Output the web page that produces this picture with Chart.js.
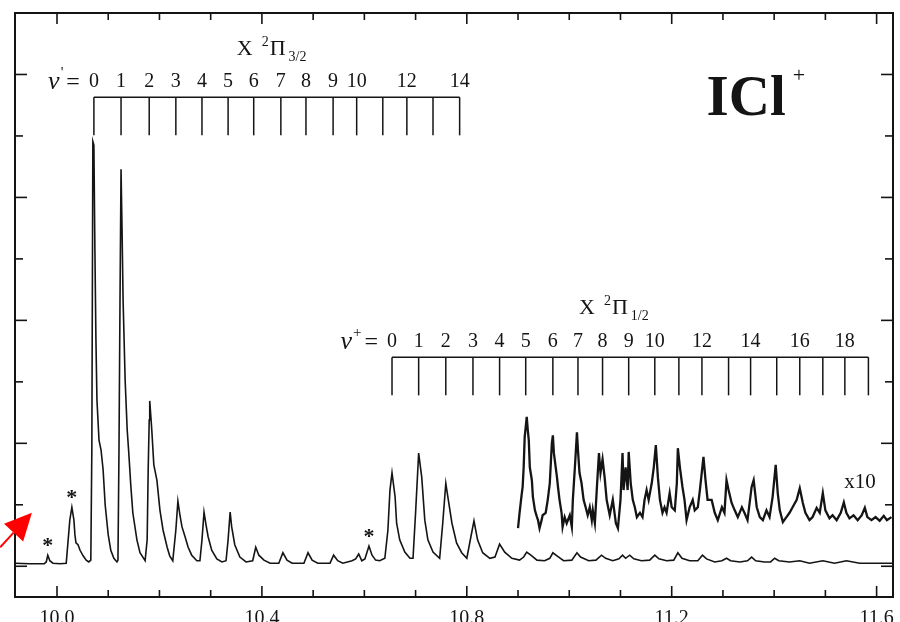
<!DOCTYPE html>
<html>
<head>
<meta charset="utf-8">
<script src="https://cdn.jsdelivr.net/npm/chart.js@4.4.1/dist/chart.umd.min.js"></script>
<style>
  html, body { margin: 0; padding: 0; background: #fff; }
  #wrap { width: 900px; height: 622px; position: relative; }
</style>
</head>
<body>
<div id="wrap"><canvas id="chart-div"></canvas></div>
<script>
// ICl+ threshold photoelectron spectrum
// energy in eV, signal in arbitrary units (baseline ~0)
const mainEnergy = [
  9.918, 9.947, 9.975, 9.979, 9.982, 9.986, 9.992, 10.006, 10.018, 10.021,
  10.025, 10.029, 10.033, 10.035, 10.037, 10.041, 10.045, 10.051, 10.057, 10.062,
  10.066, 10.068, 10.070, 10.072, 10.074, 10.076, 10.078, 10.082, 10.086, 10.090,
  10.094, 10.100, 10.105, 10.111, 10.117, 10.119, 10.121, 10.123, 10.125, 10.127,
  10.129, 10.133, 10.137, 10.140, 10.144, 10.148, 10.156, 10.162, 10.172, 10.176,
  10.178, 10.180, 10.181, 10.183, 10.185, 10.189, 10.195, 10.201, 10.207, 10.215,
  10.220, 10.226, 10.232, 10.236, 10.240, 10.244, 10.250, 10.256, 10.263, 10.273,
  10.279, 10.283, 10.287, 10.291, 10.295, 10.302, 10.312, 10.322, 10.330, 10.334,
  10.338, 10.341, 10.347, 10.357, 10.369, 10.382, 10.388, 10.394, 10.404, 10.416,
  10.433, 10.441, 10.449, 10.459, 10.482, 10.490, 10.498, 10.509, 10.533, 10.540,
  10.548, 10.558, 10.576, 10.583, 10.589, 10.595, 10.601, 10.609, 10.615, 10.622,
  10.630, 10.640, 10.646, 10.650, 10.654, 10.660, 10.663, 10.669, 10.679, 10.689,
  10.695, 10.700, 10.706, 10.712, 10.718, 10.724, 10.734, 10.747, 10.753, 10.759,
  10.763, 10.771, 10.780, 10.790, 10.800, 10.808, 10.814, 10.821, 10.831, 10.845,
  10.855, 10.864, 10.874, 10.888, 10.903, 10.911, 10.917, 10.925, 10.937, 10.952,
  10.962, 10.968, 10.976, 10.989, 11.005, 11.015, 11.022, 11.038, 11.052, 11.063,
  11.071, 11.085, 11.097, 11.104, 11.110, 11.118, 11.126, 11.141, 11.157, 11.167,
  11.175, 11.190, 11.204, 11.212, 11.220, 11.235, 11.251, 11.260, 11.268, 11.284,
  11.298, 11.307, 11.315, 11.333, 11.348, 11.356, 11.364, 11.381, 11.393, 11.401,
  11.409, 11.430, 11.450, 11.469, 11.495, 11.518, 11.541, 11.567, 11.596, 11.631
];
const mainSignal = [
  0.05, 0.04, 0.04, 0.07, 0.18, 0.09, 0.05, 0.04, 0.05, 0.35,
  0.75, 0.96, 0.75, 0.51, 0.38, 0.35, 0.26, 0.17, 0.10, 0.07,
  0.10, 1.89, 6.91, 6.85, 5.14, 3.68, 2.70, 2.05, 1.89, 1.57,
  1.00, 0.51, 0.26, 0.13, 0.07, 0.10, 1.89, 4.33, 6.46, 5.47,
  4.33, 3.03, 2.22, 1.86, 1.32, 0.87, 0.43, 0.22, 0.09, 0.43,
  1.57, 2.38, 2.69, 2.46, 2.22, 1.65, 1.40, 0.91, 0.59, 0.31,
  0.17, 0.09, 0.59, 1.06, 0.83, 0.64, 0.48, 0.31, 0.18, 0.09,
  0.09, 0.43, 0.88, 0.67, 0.48, 0.26, 0.12, 0.07, 0.09, 0.43,
  0.88, 0.64, 0.35, 0.15, 0.07, 0.09, 0.31, 0.18, 0.10, 0.05,
  0.05, 0.22, 0.10, 0.05, 0.05, 0.22, 0.10, 0.05, 0.05, 0.18,
  0.09, 0.05, 0.09, 0.12, 0.20, 0.09, 0.12, 0.33, 0.18, 0.10,
  0.09, 0.13, 0.59, 1.24, 1.52, 1.13, 0.70, 0.43, 0.23, 0.13,
  0.13, 0.87, 1.84, 1.45, 0.75, 0.43, 0.23, 0.13, 0.70, 1.35,
  1.13, 0.70, 0.38, 0.22, 0.13, 0.48, 0.74, 0.43, 0.22, 0.13,
  0.15, 0.36, 0.23, 0.13, 0.10, 0.15, 0.23, 0.18, 0.10, 0.09,
  0.13, 0.22, 0.17, 0.09, 0.10, 0.22, 0.15, 0.09, 0.10, 0.18,
  0.13, 0.09, 0.12, 0.18, 0.13, 0.18, 0.12, 0.09, 0.10, 0.18,
  0.12, 0.09, 0.10, 0.22, 0.13, 0.09, 0.09, 0.18, 0.12, 0.07,
  0.09, 0.13, 0.09, 0.07, 0.09, 0.15, 0.09, 0.07, 0.07, 0.13,
  0.09, 0.07, 0.09, 0.05, 0.09, 0.05, 0.09, 0.05, 0.05, 0.05
];

// the x10 magnified trace over the X 2Pi1/2 tail
const x10Energy = [
  10.900, 10.903, 10.907, 10.909, 10.911, 10.913, 10.917, 10.919, 10.921, 10.923,
  10.927, 10.929, 10.933, 10.937, 10.939, 10.942, 10.946, 10.948, 10.954, 10.958,
  10.962, 10.966, 10.968, 10.970, 10.976, 10.978, 10.981, 10.985, 10.987, 10.991,
  10.995, 11.001, 11.005, 11.007, 11.011, 11.015, 11.017, 11.020, 11.024, 11.028,
  11.032, 11.036, 11.040, 11.044, 11.046, 11.050, 11.054, 11.058, 11.061, 11.065,
  11.069, 11.073, 11.079, 11.085, 11.091, 11.095, 11.100, 11.104, 11.106, 11.110,
  11.114, 11.116, 11.120, 11.124, 11.128, 11.132, 11.138, 11.143, 11.147, 11.151,
  11.155, 11.161, 11.165, 11.169, 11.173, 11.177, 11.182, 11.186, 11.190, 11.196,
  11.200, 11.206, 11.210, 11.212, 11.216, 11.221, 11.225, 11.229, 11.235, 11.241,
  11.245, 11.251, 11.255, 11.262, 11.266, 11.270, 11.278, 11.284, 11.290, 11.298,
  11.303, 11.307, 11.311, 11.317, 11.323, 11.329, 11.337, 11.342, 11.348, 11.356,
  11.360, 11.366, 11.372, 11.378, 11.385, 11.391, 11.397, 11.403, 11.407, 11.411,
  11.417, 11.424, 11.430, 11.436, 11.444, 11.450, 11.456, 11.461, 11.469, 11.475,
  11.483, 11.489, 11.495, 11.500, 11.508, 11.514, 11.522, 11.530, 11.536, 11.541,
  11.547, 11.555, 11.563, 11.571, 11.577, 11.582, 11.590, 11.598, 11.606, 11.614,
  11.620, 11.629
];
const x10Signal = [
  0.62, 0.87, 1.16, 1.29, 1.61, 2.10, 2.43, 2.22, 2.05, 1.61,
  1.40, 1.13, 0.91, 0.80, 0.75, 0.62, 0.75, 0.83, 0.87, 1.08,
  1.35, 2.00, 2.13, 1.84, 1.45, 1.29, 1.08, 0.87, 0.64, 0.80,
  0.70, 0.83, 0.64, 1.08, 1.61, 2.18, 1.89, 1.52, 1.35, 1.08,
  0.96, 0.83, 0.96, 0.75, 0.91, 0.70, 1.29, 1.84, 1.52, 1.74,
  1.45, 1.08, 0.83, 1.08, 0.70, 0.62, 1.08, 1.84, 1.24, 1.61,
  1.24, 1.86, 1.35, 1.08, 0.96, 0.80, 0.87, 0.80, 1.08, 1.24,
  1.08, 1.35, 1.61, 1.97, 1.45, 1.08, 0.87, 0.96, 0.87, 1.19,
  0.96, 0.91, 1.35, 1.92, 1.61, 1.29, 1.08, 0.75, 0.96, 1.08,
  0.91, 0.96, 1.24, 1.78, 1.40, 1.08, 1.08, 0.87, 0.75, 0.96,
  0.87, 1.40, 1.24, 1.03, 0.91, 0.80, 0.96, 0.87, 0.75, 1.29,
  1.40, 0.96, 0.80, 0.75, 0.91, 0.80, 1.13, 1.65, 1.19, 0.91,
  0.72, 0.80, 0.87, 0.96, 1.08, 1.27, 1.03, 0.87, 0.75, 0.80,
  0.95, 0.87, 1.19, 0.91, 0.78, 0.83, 0.75, 0.87, 1.04, 0.87,
  0.78, 0.83, 0.75, 0.83, 0.95, 0.80, 0.75, 0.80, 0.74, 0.82,
  0.75, 0.80
];

// vibrational progressions (eV) and their labels
const pi32Levels = [10.072, 10.125, 10.180, 10.232, 10.283, 10.334, 10.384, 10.437,
  10.486, 10.539, 10.585, 10.636, 10.683, 10.734, 10.786];
const pi32Labels = ['0', '1', '2', '3', '4', '5', '6', '7', '8', '9', '10', '', '12', '', '14'];
const pi12Levels = [10.654, 10.706, 10.759, 10.812, 10.864, 10.915, 10.968, 11.017,
  11.065, 11.116, 11.167, 11.214, 11.259, 11.311, 11.354, 11.405, 11.450, 11.495,
  11.538, 11.584];
const pi12Labels = ['0', '1', '2', '3', '4', '5', '6', '7', '8', '9', '10', '', '12', '',
  '14', '', '16', '', '18', ''];

// peaks marked with an asterisk
const starEnergy = [9.982, 10.029, 10.609];

// axes
const xTickLabels = ['10.0', '10.4', '10.8', '11.2', '11.6'];
const xMinorTicks = [10.0, 10.1, 10.2, 10.3, 10.4, 10.5, 10.6, 10.7, 10.8, 10.9,
  11.0, 11.1, 11.2, 11.3, 11.4, 11.5, 11.6];
const yTicks = [0, 1, 2, 3, 4, 5, 6, 7, 8];

const ink = '#141414';
const serif = '"Liberation Serif", "Times New Roman", serif';

function runText(ctx, x, y, parts, align) {
  let w = 0;
  parts.forEach(p => { ctx.font = p.font; w += ctx.measureText(p.t).width + (p.gap || 0); });
  let cx = align === 'right' ? x - w : x;
  parts.forEach(p => {
    ctx.font = p.font;
    ctx.fillText(p.t, cx, y + (p.dy || 0));
    cx += ctx.measureText(p.t).width + (p.gap || 0);
  });
}

const decorations = {
  id: 'decorations',
  afterDatasetsDraw(chart) {
    const { ctx, chartArea: a, scales } = chart;
    const sx = v => scales.x.getPixelForValue(v);
    const sy = v => scales.y.getPixelForValue(v);
    const seg = (x0, y0, x1, y1) => { ctx.beginPath(); ctx.moveTo(x0, y0); ctx.lineTo(x1, y1); ctx.stroke(); };

    ctx.save();
    ctx.strokeStyle = ink;
    ctx.fillStyle = ink;
    ctx.textAlign = 'left';
    ctx.textBaseline = 'alphabetic';

    // frame
    ctx.lineWidth = 2;
    ctx.strokeRect(a.left, a.top, a.right - a.left, a.bottom - a.top);

    // inward ticks
    ctx.lineWidth = 1.6;
    xMinorTicks.forEach(v => {
      const px = sx(v);
      const len = xTickLabels.includes(v.toFixed(1)) ? 11 : 7;
      seg(px, a.bottom, px, a.bottom - len);
      seg(px, a.top, px, a.top + len);
    });
    yTicks.forEach(v => {
      const py = sy(v);
      const len = v % 2 === 0 ? 12 : 8;
      seg(a.left, py, a.left + len, py);
      seg(a.right, py, a.right - len, py);
    });

    ctx.font = '20px ' + serif;
    ctx.textAlign = 'center';
    xTickLabels.forEach(t => ctx.fillText(t, sx(parseFloat(t)), a.bottom + 27));

    // progression combs
    const comb = (levels, labels, top, foot, sup, titleX, titleY, sub) => {
      const yTop = sy(top), yFoot = sy(foot);
      ctx.lineWidth = 1.5;
      seg(sx(levels[0]), yTop, sx(levels[levels.length - 1]), yTop);
      levels.forEach(e => seg(sx(e), yTop, sx(e), yFoot));
      ctx.textAlign = 'center';
      ctx.font = '20px ' + serif;
      labels.forEach((t, i) => { if (t) ctx.fillText(t, sx(levels[i]), yTop - 10); });
      ctx.textAlign = 'left';
      runText(ctx, sx(levels[0]) - 14, yTop - 8, [
        { t: 'ν', font: 'italic 26px ' + serif, gap: 1 },
        { t: sup, font: '15px ' + serif, dy: -12, gap: 3 },
        { t: '=', font: '24px ' + serif }
      ], 'right');
      runText(ctx, sx(titleX), sy(titleY), [
        { t: 'X', font: '22px ' + serif, gap: 9 },
        { t: '2', font: '14px ' + serif, dy: -9, gap: 1 },
        { t: 'Π', font: '22px ' + serif, gap: 3 },
        { t: sub, font: '14px ' + serif, dy: 6 }
      ]);
    };
    comb(pi32Levels, pi32Labels, 7.63, 7.01, "'", 10.351, 8.31, '3/2');
    comb(pi12Levels, pi12Labels, 3.40, 2.78, '+', 11.019, 4.10, '1/2');

    // asterisks above marked peaks
    ctx.textAlign = 'center';
    ctx.font = 'bold 22px ' + serif;
    starEnergy.forEach(e => {
      let best = 0;
      mainEnergy.forEach((x, i) => { if (Math.abs(x - e) < 0.004) best = Math.max(best, mainSignal[i]); });
      ctx.fillText('*', sx(e), sy(best) - 3);
    });

    // x10 tag and molecule name
    ctx.textAlign = 'left';
    ctx.font = '21px ' + serif;
    ctx.fillText('x10', sx(11.537), sy(1.27));
    runText(ctx, sx(11.268), sy(7.34), [
      { t: 'ICl', font: 'bold 57px ' + serif, gap: 7 },
      { t: '+', font: '22px ' + serif, dy: -33 }
    ]);

    // red arrow pointing at the weak onset
    const x0 = sx(9.889), y0 = sy(0.31), x1 = sx(9.951), y1 = sy(0.87);
    const ang = Math.atan2(y1 - y0, x1 - x0);
    const L = 27, W = 13;
    const bx = x1 - L * Math.cos(ang), by = y1 - L * Math.sin(ang);
    ctx.strokeStyle = '#ff0000';
    ctx.fillStyle = '#ff0000';
    ctx.lineWidth = 2;
    seg(x0, y0, bx, by);
    ctx.beginPath();
    ctx.moveTo(x1, y1);
    ctx.lineTo(bx + W * Math.sin(ang), by - W * Math.cos(ang));
    ctx.lineTo(bx - W * Math.sin(ang), by + W * Math.cos(ang));
    ctx.closePath();
    ctx.fill();

    ctx.restore();
  }
};

new Chart(document.getElementById('chart-div'), {
  type: 'line',
  data: {
    datasets: [{
      label: 'TPE signal',
      data: mainEnergy.map((e, i) => ({ x: e, y: mainSignal[i] })),
      borderColor: ink,
      borderWidth: 1.6,
      pointRadius: 0,
      tension: 0
    }, {
      label: 'x10',
      data: x10Energy.map((e, i) => ({ x: e, y: x10Signal[i] })),
      borderColor: ink,
      borderWidth: 2.3,
      pointRadius: 0,
      tension: 0
    }]
  },
  options: {
    responsive: true,
    maintainAspectRatio: false,
    animation: false,
    layout: { padding: { left: 15, right: 7, top: 13, bottom: 25 } },
    plugins: { legend: { display: false }, tooltip: { enabled: false } },
    scales: {
      x: { type: 'linear', min: 9.918, max: 11.632, display: false },
      y: { min: -0.5, max: 9, display: false }
    }
  },
  plugins: [decorations]
});
</script>
</body>
</html>
